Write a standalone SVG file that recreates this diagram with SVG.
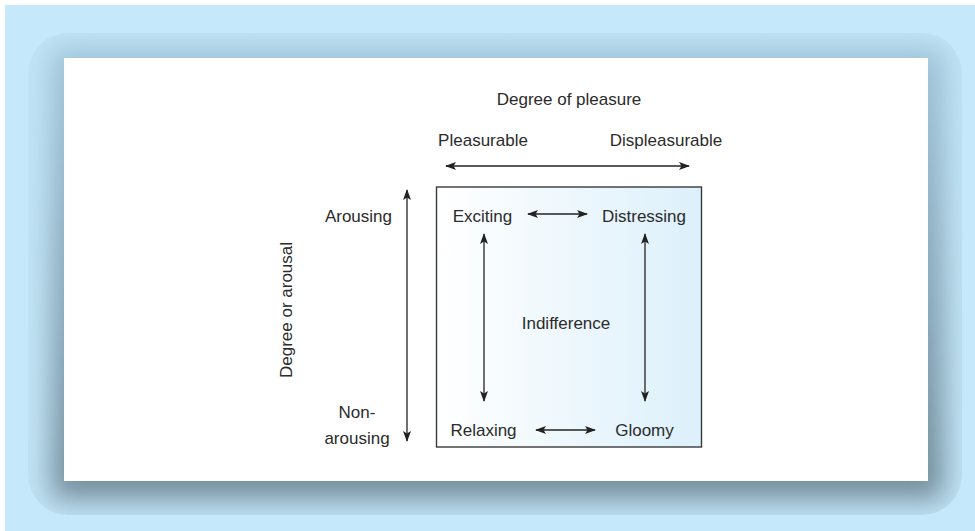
<svg xmlns="http://www.w3.org/2000/svg" width="975" height="531" viewBox="0 0 975 531">
<defs>
<linearGradient id="shadowFill" x1="0" y1="0" x2="0" y2="1">
<stop offset="0" stop-color="#9ec2d6"/>
<stop offset="1" stop-color="#718a98"/>
</linearGradient>
<linearGradient id="boxFill" x1="0" y1="0" x2="1" y2="0">
<stop offset="0" stop-color="#ffffff"/>
<stop offset="1" stop-color="#dcf0fb"/>
</linearGradient>
<filter id="blur" x="-10%" y="-10%" width="120%" height="120%">
<feGaussianBlur stdDeviation="14"/>
</filter>
<clipPath id="frameClip">
<rect x="28" y="33" width="934" height="482" rx="40"/>
</clipPath>
<marker id="ah" viewBox="0 0 11 8" refX="10" refY="4" markerWidth="11" markerHeight="8" markerUnits="userSpaceOnUse" orient="auto-start-reverse">
<path d="M0,0 L11,4 L0,8 L2.5,4 Z" fill="#222"/>
</marker>
<style>
.t{font-family:"Liberation Sans",Arial,sans-serif;font-size:17px;fill:#2b2b2b}
.c{text-anchor:middle}
.r{text-anchor:end}
.ln{stroke:#222;stroke-width:1.3;fill:none;marker-start:url(#ah);marker-end:url(#ah)}
</style>
</defs>
<rect x="5" y="5" width="970" height="526" fill="#c5e8fa"/>
<g clip-path="url(#frameClip)">
<rect x="28" y="33" width="934" height="482" rx="40" fill="#c1e4f6"/>
<rect x="52" y="49" width="892" height="450" fill="url(#shadowFill)" filter="url(#blur)"/>
</g>
<rect x="64" y="58" width="864" height="423" fill="#ffffff"/>

<g id="frame">
<rect x="436.5" y="187" width="265" height="260" fill="url(#boxFill)" stroke="#3a3a3a" stroke-width="1.4"/>
</g>

<g id="axis-labels">
<text class="t c" x="569" y="105">Degree of pleasure</text>
<text class="t c" x="483" y="146">Pleasurable</text>
<text class="t c" x="666" y="146">Displeasurable</text>
<text class="t r" x="392" y="222">Arousing</text>
<text class="t c" x="357" y="418">Non-</text>
<text class="t c" x="357" y="444">arousing</text>
<text class="t c" transform="translate(292,310) rotate(-90)" x="0" y="0">Degree or arousal</text>
</g>

<g id="exciting"><text class="t c" x="482.5" y="222">Exciting</text></g>
<g id="distressing"><text class="t c" x="644" y="222">Distressing</text></g>
<g id="indifference"><text class="t c" x="566" y="329">Indifference</text></g>
<g id="relaxing"><text class="t c" x="483.5" y="436">Relaxing</text></g>
<g id="gloomy"><text class="t c" x="644.5" y="436">Gloomy</text></g>

<g id="connectors">
<line class="ln" x1="446" y1="166" x2="689" y2="166"/>
<line class="ln" x1="407" y1="190" x2="407" y2="441"/>
<line class="ln" x1="528" y1="214" x2="587" y2="214"/>
<line class="ln" x1="484" y1="234" x2="484" y2="401"/>
<line class="ln" x1="645" y1="234" x2="645" y2="401"/>
<line class="ln" x1="536" y1="430" x2="595" y2="430"/>
</g>
</svg>
